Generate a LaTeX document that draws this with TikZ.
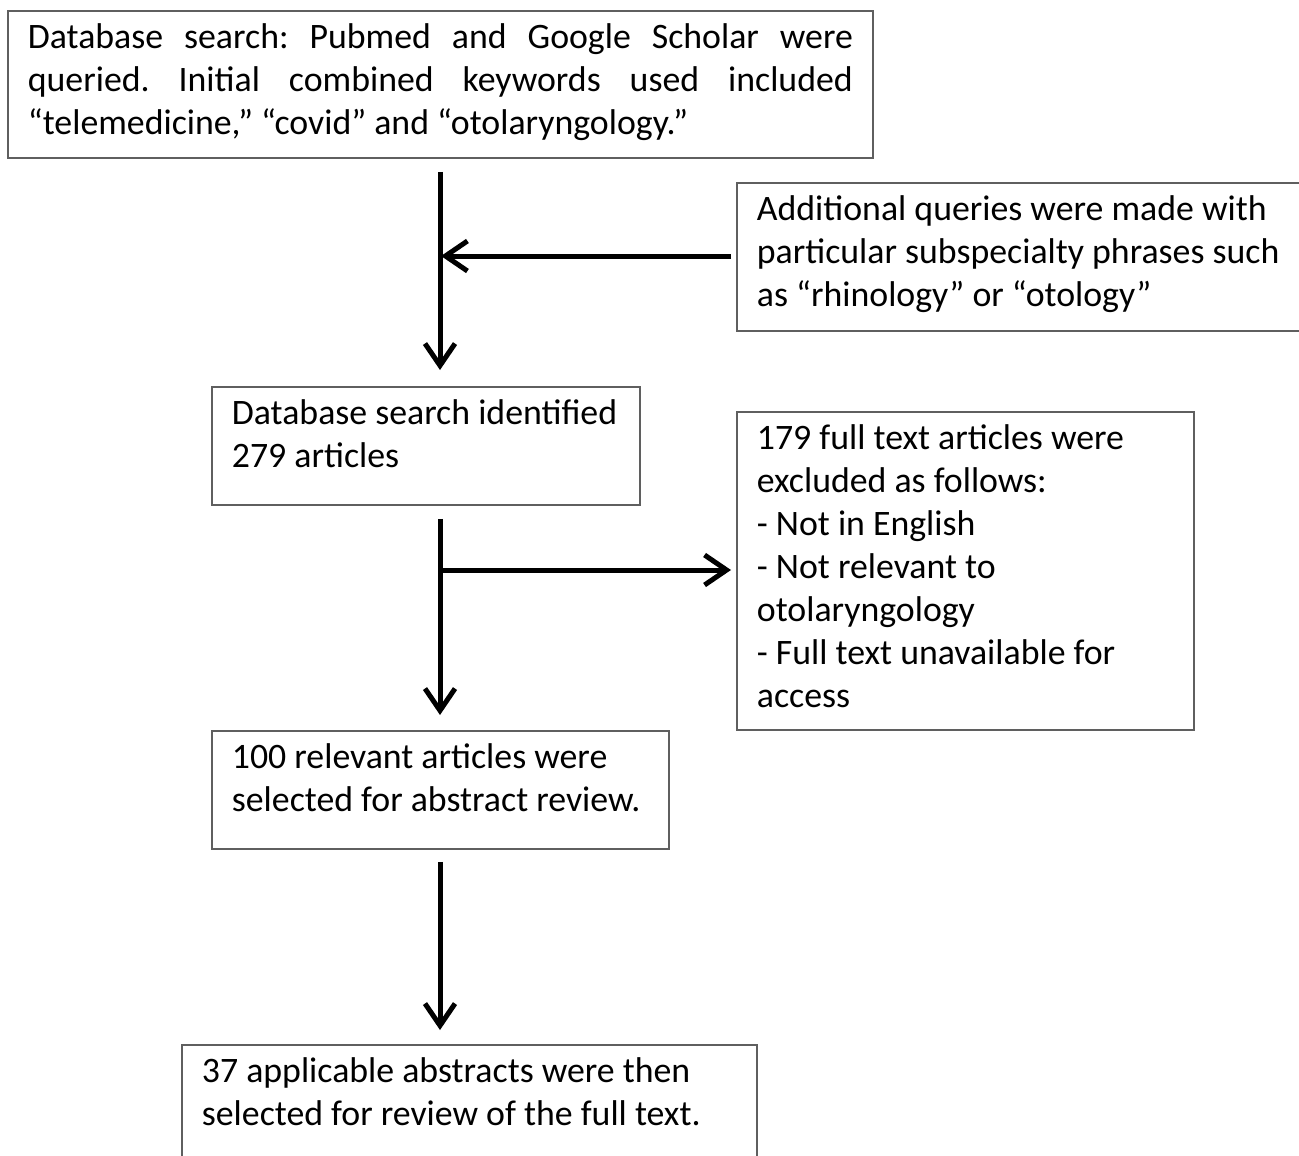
\documentclass[tikz,border=0pt]{standalone}
\usepackage{fontspec}
\setmainfont{Carlito}
\usetikzlibrary{arrows.meta}
\definecolor{bordergray}{RGB}{95,95,95}
\newcommand\boxtext[3]{\parbox[c][#2][t]{#1}{\frenchspacing\rule{0pt}{38pt}#3}}
\tikzset{
  flowbox/.style={draw=bordergray, line width=1.8pt, inner xsep=20pt, inner ysep=0pt,
    anchor=north west, font=\fontsize{35.8}{43}\selectfont},
  flowarrow/.style={line width=5pt, black,
    -{Straight Barb[length=22pt,width=30pt,line width=5pt]}},
}
\begin{document}
\begin{tikzpicture}[x=1pt,y=-1pt]
\useasboundingbox (0,0) rectangle (1299,1156);
\fill[white] (0,0) rectangle (1299,1156);

\node[flowbox] (box1) at (7,10) {\boxtext{825pt}{147pt}{Database search: Pubmed and Google Scholar were\linebreak queried. Initial combined keywords used included\linebreak “telemedicine,” “covid” and “otolaryngology.”}};

\node[flowbox] (box2) at (736,182) {\boxtext{560pt}{148pt}{\raggedright Additional queries were made with\\ particular subspecialty phrases such\\ as “rhinology” or “otology”}};

\node[flowbox] (box3) at (211,386) {\boxtext{388pt}{118pt}{\raggedright Database search identified\\ 279 articles}};

\node[flowbox] (box4) at (736,411) {\boxtext{417pt}{318pt}{\raggedright 179 full text articles were\\ excluded as follows:\\ - Not in English\\ - Not relevant to\\ otolaryngology\\ - Full text unavailable for\\ access}};

\node[flowbox] (box5) at (211,730) {\boxtext{417pt}{118pt}{\raggedright 100 relevant articles were\\ selected for abstract review.}};

\node[flowbox] (box6) at (181,1044) {\boxtext{535pt}{150pt}{\raggedright 37 applicable abstracts were then\\ selected for review of the full text.}};

\coordinate (j1) at (440,256);
\coordinate (j2) at (440,570);

\draw[flowarrow, shorten <=13pt, shorten >=16pt] (box1.south -| j1) -- (box3.north -| j1);
\draw[flowarrow, shorten <=5pt, shorten >=1pt] (box2.west |- j1) -- (j1);
\draw[flowarrow, shorten <=13pt, shorten >=15pt] (box3.south -| j2) -- (box5.north -| j2);
\draw[flowarrow, shorten >=5pt] (j2) -- (box4.west |- j2);
\draw[flowarrow, shorten <=12pt, shorten >=14pt] (box5.south -| j2) -- (box6.north -| j2);
\end{tikzpicture}
\end{document}
